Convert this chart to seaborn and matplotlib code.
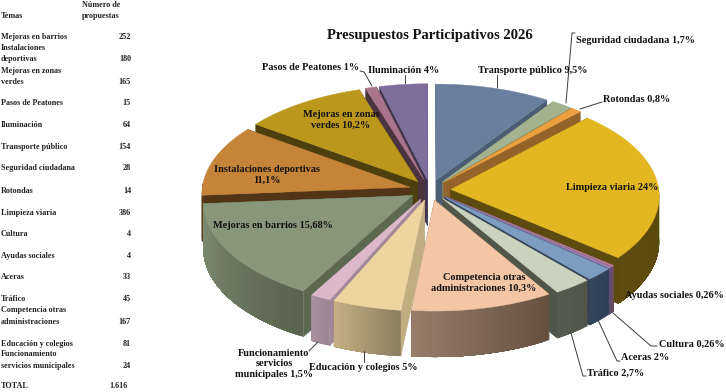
import numpy as np
import matplotlib
matplotlib.use("Agg")
import matplotlib.pyplot as plt
import seaborn as sns

# ---- data ----
themes = ["Mejoras en barrios", "Instalaciones\ndeportivas", "Mejoras en zonas\nverdes",
          "Pasos de Peatones", "Iluminación", "Transporte público", "Seguridad ciudadana",
          "Rotondas", "Limpieza viaria", "Cultura", "Ayudas sociales", "Aceras", "Tráfico",
          "Competencia otras\nadministraciones", "Educación y colegios",
          "Funcionamiento\nservicios municipales"]
counts = [252, 180, 165, 15, 64, 154, 28, 14, 386, 4, 4, 33, 45, 167, 81, 24]
total_label = "1.616"
table_rows_y = [37, 59, 82, 103, 125, 147, 168, 191, 213, 234, 256, 277, 299, 322, 344, 366]

top_colors = ["#88977a", "#c58438", "#bb981c", "#a9758a", "#7f6d9b", "#697f9d", "#a3b38f",
              "#eb9f3e", "#e2b722", "#b87a92", "#9a7fb0", "#7c9cc0", "#c9d3bd", "#f3c6a5",
              "#edd5a0", "#dcb9c8"]
cut_colors = ["#5d6850", "#523417", "#4e3f0f", "#4c3340", "#3f3550", "#4a5d72", "#7a8a6a",
              "#94632a", "#5c4a0e", "#6e4a5a", "#5e4c70", "#2f3f55", "#515648", "#6a5545",
              "#c0ae80", "#a0889a"]
arc_light = ["#7f8e72", "#6b4a20", "#4e3f0f", "#4c3340", "#3f3550", "#4a5d72", "#7a8a6a",
             "#94632a", "#5f4c10", "#6e4a5a", "#5e4c70", "#36465c", "#565c4e", "#987d6b",
             "#c6b285", "#ab929f"]
arc_dark = ["#59644f", "#523417", "#4e3f0f", "#4c3340", "#3f3550", "#4a5d72", "#7a8a6a",
            "#94632a", "#5a480e", "#6e4a5a", "#5e4c70", "#2f3f55", "#505547", "#66503f",
            "#8d8060", "#9d8594"]

slice_labels = [
    ("Seguridad ciudadana 1,7%", 576, 40, "left"),
    ("Transporte público 9,5%", 478, 70, "left"),
    ("Rotondas 0,8%", 603, 99, "left"),
    ("Limpieza viaria 24%", 566, 187, "left"),
    ("Ayudas sociales 0,26%", 625, 295, "left"),
    ("Cultura 0,26%", 659, 344, "left"),
    ("Aceras 2%", 621, 358, "left"),
    ("Tráfico 2,7%", 587, 373, "left"),
    ("Competencia otras\nadministraciones 10,3%", 484, 283, "center"),
    ("Educación y colegios 5%", 309, 368, "left"),
    ("Funcionamiento\nservicios\nmunicipales 1,5%", 274, 364, "center"),
    ("Mejoras en barrios 15,68%", 213, 225, "left"),
    ("Instalaciones deportivas\n11,1%", 267, 175, "center"),
    ("Mejoras en zonas\nverdes 10,2%", 341, 120, "center"),
    ("Pasos de Peatones 1%", 262, 67, "left"),
    ("Iluminación 4%", 368, 70, "left"),
]
leaders = [
    [(566, 103), (572, 33), (575, 33)],
    [(497, 75), (497, 87)],
    [(580, 109), (602, 102)],
    [(405, 75), (405, 83)],
    [(360, 71), (364, 72), (372, 86)],
    [(613, 313), (651, 346), (657, 346)],
    [(598, 320), (617, 361), (620, 361)],
    [(571, 333), (583, 376), (586, 376)],
    [(364, 351), (364, 362)],
    [(318, 342), (309, 351)],
]

# ---- geometry of the 3D pie ----
CX, CY, RX, RY, PERSP, EXPLODE, DEPTH = 430, 190, 208, 103, 0.06, 0.1, 46
START_INDEX = themes.index("Transporte público")


def project(u, v):
    w = 1 - PERSP * v
    return CX + RX * u / w, CY + RY * v / w


sns.set_theme(style="white")
plt.rcParams["font.family"] = ["Liberation Serif", "DejaVu Serif"]
fig = plt.figure(figsize=(7.26, 3.92), dpi=100)
ax = fig.add_axes([0, 0, 1, 1])
ax.set_xlim(0, 726)
ax.set_ylim(392, 0)
ax.axis("off")

shares = np.array(counts, float) / sum(counts) * 360
edges = np.concatenate([[0], np.cumsum(shares)]) - shares[:START_INDEX].sum()
wedges = []
for i in range(len(counts)):
    a0, a1 = np.radians(edges[i]), np.radians(edges[i + 1])
    wedges.append((i, a0, a1, (a0 + a1) / 2))
wedges.sort(key=lambda w: -np.cos(w[3]))


def fill(xs, ys, color, z, lw=0.3):
    ax.fill(xs, ys, facecolor=color, edgecolor=color, linewidth=lw, zorder=z)


for z, (i, a0, a1, mid) in enumerate(wedges):
    ex, ey = EXPLODE * np.sin(mid), -EXPLODE * np.cos(mid)
    theta = np.linspace(a0, a1, max(6, int(np.degrees(a1 - a0))))
    ax_u = ex + np.sin(theta)
    ax_v = ey - np.cos(theta)
    ox, oy = project(ax_u, ax_v)
    ax0, ay0 = project(np.array([ex]), np.array([ey]))
    # cut faces
    for k in (0, -1):
        fill([ax0[0], ox[k], ox[k], ax0[0]],
             [ay0[0], oy[k], oy[k] + DEPTH, ay0[0] + DEPTH], cut_colors[i], z * 3)
    # outer arc with gradient (light at the left, dark at the right),
    # painted as overlapping bands so no seams show
    front = np.where(np.cos(theta) < 0.05)[0]
    if len(front) > 1:
        ramp = sns.blend_palette([arc_dark[i], arc_light[i]], len(front))
        last = front[-1]
        for step, k in enumerate(front[:-1]):
            xs = np.r_[ox[k:last + 1], ox[k:last + 1][::-1]]
            ys = np.r_[oy[k:last + 1], oy[k:last + 1][::-1] + DEPTH]
            fill(xs, ys, ramp[step], z * 3 + 1, lw=0.0)
    # top face
    fill(np.r_[ax0, ox], np.r_[ay0, oy], top_colors[i], z * 3 + 2)

BASE = 200
for pts in leaders:
    xs, ys = zip(*pts)
    ax.plot(xs, ys, color="#3a3a3a", lw=0.7, zorder=BASE)

for text, x, y, ha in slice_labels:
    ax.text(x, y, text, ha=ha, va="center", fontsize=7.4, fontweight="bold",
            color="#111111", linespacing=1.2, zorder=BASE + 1, multialignment="center")

ax.text(430, 35, "Presupuestos Participativos 2026", ha="center", va="center",
        fontsize=10.5, fontweight="bold", color="#111111", zorder=BASE + 1)

# ---- table ----
TS = 5.9
ax.text(1, 16, "Temas", fontsize=TS, fontweight="bold", va="center", color="#222222")
ax.text(82, 5, "Número de", fontsize=TS, fontweight="bold", va="center", color="#222222")
ax.text(82, 16, "propuestas", fontsize=TS, fontweight="bold", va="center", color="#222222")
for name, n, y in zip(themes, counts, table_rows_y):
    lines = name.split("\n")
    for j, line in enumerate(lines):
        ax.text(1, y - 11.5 * (len(lines) - 1 - j), line, fontsize=TS, fontweight="bold",
                va="center", color="#222222")
    ax.text(131, y, str(n), fontsize=TS, fontweight="bold", va="center", ha="right", color="#222222")
ax.text(1, 386, "TOTAL", fontsize=TS, fontweight="bold", va="center", color="#222222")
ax.text(128, 386, total_label, fontsize=TS, fontweight="bold", va="center", ha="right", color="#222222")

fig.savefig("out.png", dpi=100)
